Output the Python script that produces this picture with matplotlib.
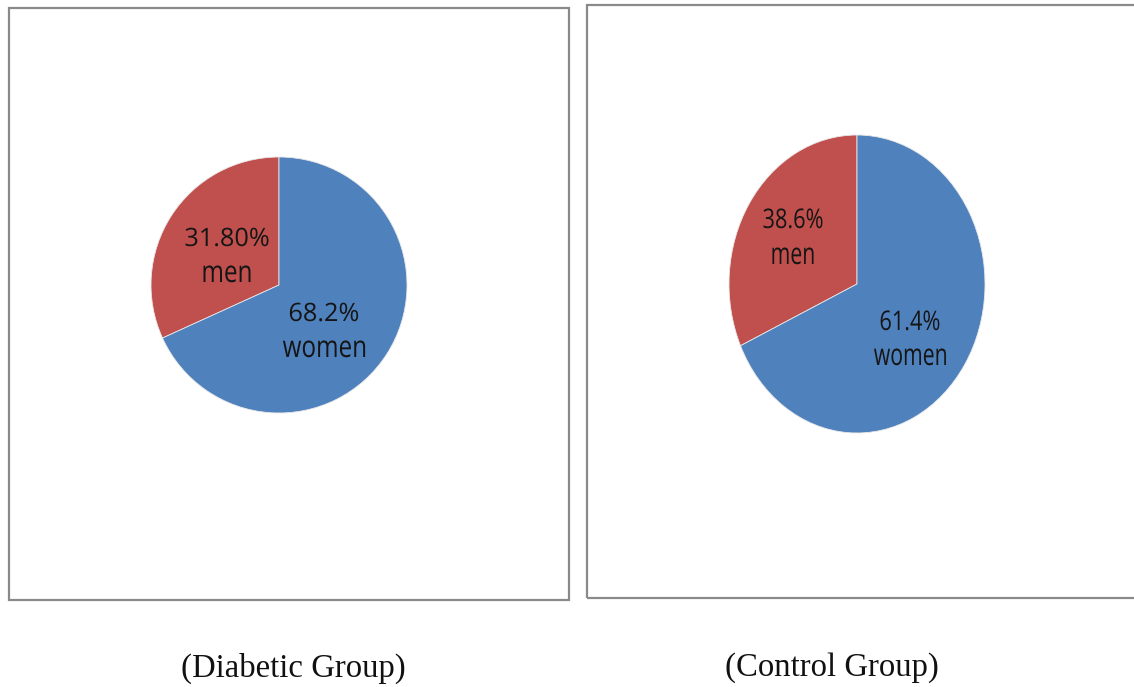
import matplotlib
matplotlib.use('Agg')
import matplotlib.pyplot as plt
from matplotlib.patches import Rectangle, PathPatch
from matplotlib.textpath import TextPath
from matplotlib.font_manager import FontProperties
from matplotlib.transforms import Affine2D

W, H = 1134, 687

# slice order: men, women
groups = ['(Diabetic Group)', '(Control Group)']
diabetic_labels = [['31.80%', 'men'], ['68.2%', 'women']]
diabetic_sizes = [31.8, 68.2]
control_labels = [['38.6%', 'men'], ['61.4%', 'women']]
# the control pie in the picture is cut like the diabetic one
control_sizes = [31.8, 68.2]
colors = ['#C0504D', '#4F81BD']

label_font = FontProperties(family='Open Sans')


def px_box(x0, y0, w, h):
    return [x0 / W, 1 - (y0 + h) / H, w / W, h / H]


def stretched_text(s, cx, baseline, sx, sy, em=25.3):
    # text drawn as a path so it can be squeezed like the picture's labels
    tp = TextPath((0, 0), s, size=em, prop=label_font)
    ext = tp.get_extents()
    tr = (Affine2D().translate(-(ext.x0 + ext.x1) / 2, 0)
          .scale(sx, sy).translate(cx, H - baseline))
    fig.add_artist(PathPatch(tp, transform=tr, facecolor='#151515',
                             edgecolor='none'))


fig = plt.figure(figsize=(W / 100, H / 100), dpi=100)
fig.patch.set_facecolor('white')

# frames around each chart
for x0, y0, w, h in [(9, 8, 560, 592), (587, 5, 560, 593)]:
    fig.add_artist(Rectangle((x0 / W, 1 - (y0 + h) / H), w / W, h / H,
                             transform=fig.transFigure, fill=False,
                             edgecolor='#8a8a8a', linewidth=1.6))


def draw_pie(box, sizes):
    ax = fig.add_axes(px_box(*box))
    ax.pie(sizes, colors=colors, startangle=90, counterclock=True,
           wedgeprops=dict(edgecolor='#e8e8e8', linewidth=0.6))
    ax.set_aspect('auto')
    ax.set_xlim(-1, 1)
    ax.set_ylim(-1, 1)
    ax.axis('off')
    return ax


draw_pie((151, 157, 256, 256), diabetic_sizes)
draw_pie((729, 135, 256, 298), control_sizes)

# label placement: (centre x, baseline of first line, baseline of second)
for lines, (cx, b1, b2) in zip(diabetic_labels,
                               [(227, 246, 282), (324, 321, 357)]):
    stretched_text(lines[0], cx, b1, 1.0, 1.0)
    stretched_text(lines[1], cx, b2, 0.96, 1.2)
for lines, (cx, b1, b2) in zip(control_labels,
                               [(793, 228, 264), (910, 330, 365)]):
    stretched_text(lines[0], cx, b1, 0.86, 1.07)
    stretched_text(lines[1], cx, b2, 0.84, 1.2)

for name, xc in zip(groups, [293, 832]):
    fig.text(xc / W, 1 - 668 / H, name, ha='center', va='center',
             fontsize=23.6, family='Liberation Serif', color='#111111')

fig.savefig('out.png', dpi=100, facecolor='white')
